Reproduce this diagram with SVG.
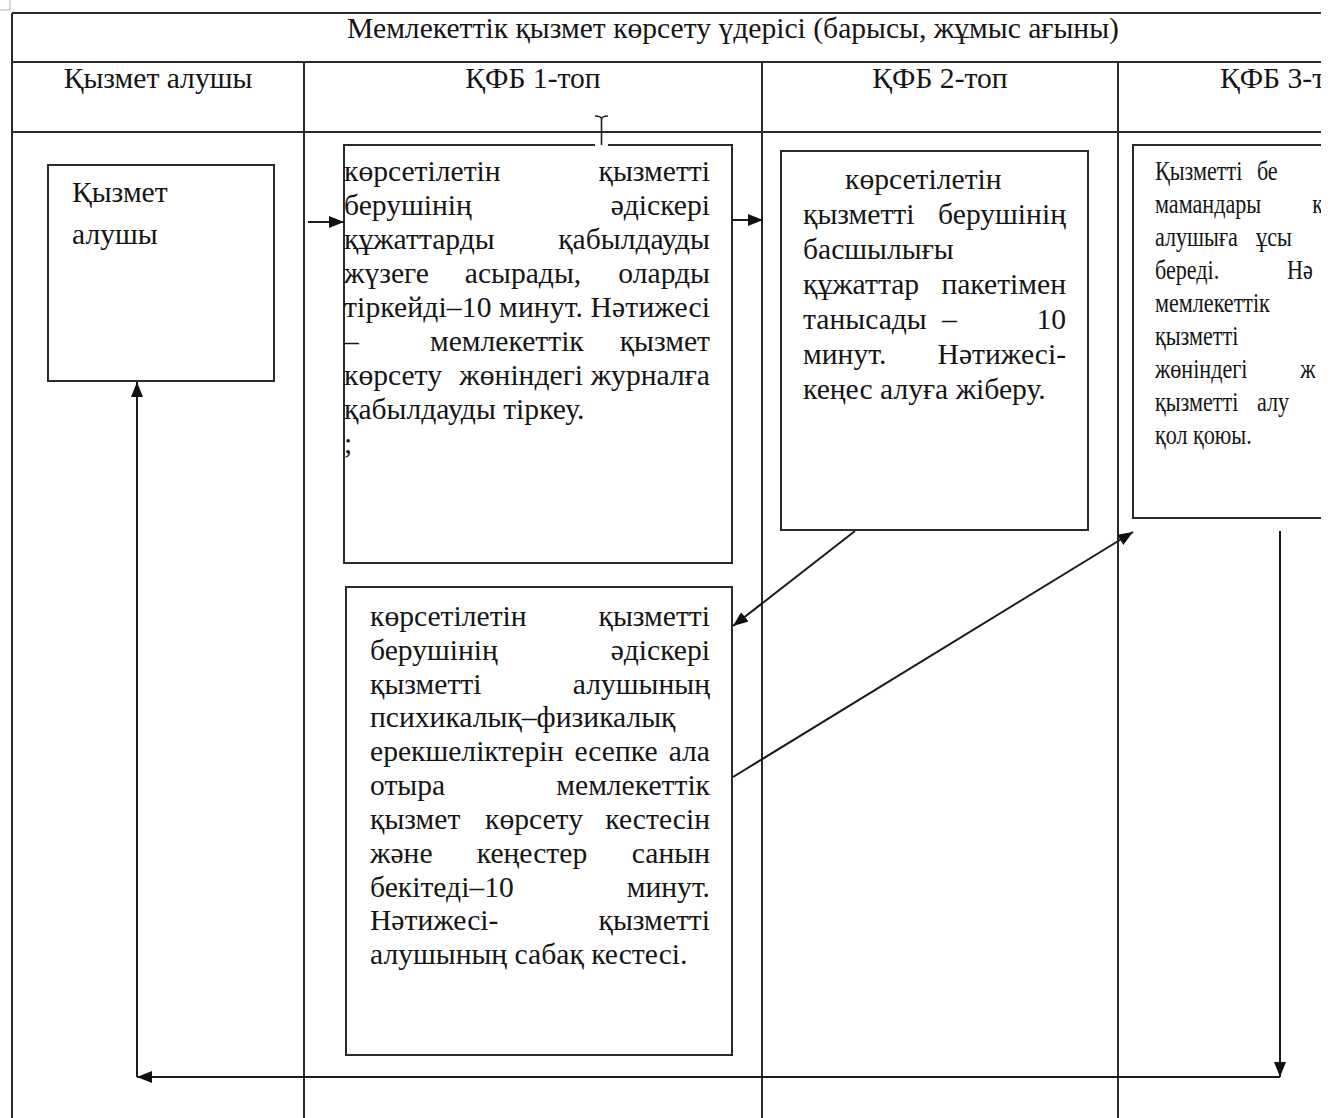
<svg xmlns="http://www.w3.org/2000/svg" width="1340" height="1118" viewBox="0 0 1340 1118">
<style>
.t{font-family:"Liberation Serif","Times New Roman",serif;font-size:29.6px;fill:#151515}
.s{font-size:28px}
.grid{stroke:#2a2a2a;stroke-width:2;fill:none}
.box{stroke:#2a2a2a;stroke-width:2;fill:#fff}
.con{stroke:#1a1a1a;stroke-width:2;fill:none}
.e{text-anchor:end}
.m{text-anchor:middle}
</style>
<defs>
<clipPath id="cl"><rect x="0" y="0" width="1321" height="1118"/></clipPath>
<marker id="ah" viewBox="0 0 15 12" refX="15" refY="6" markerWidth="15" markerHeight="12" markerUnits="userSpaceOnUse" orient="auto"><path d="M0,0 L15,6 L0,12 z" fill="#111"/></marker>
</defs>
<rect width="1340" height="1118" fill="#fff"/>
<path d="M0,10 H10 V0" stroke="#b0b0b0" stroke-width="1" fill="none"/>
<g clip-path="url(#cl)">
<g id="table">
<path class="grid" d="M12,13 H1340 M12,62 H1340 M12,132 H1340 M12,13 V1118 M304,62 V1118 M762,62 V1118 M1118,62 V1118"/>
<text class="t m" x="733" y="38">Мемлекеттік қызмет көрсету үдерісі (барысы, жұмыс ағыны)</text>
<text class="t m" x="158" y="88">Қызмет алушы</text>
<text class="t m" x="533" y="88">ҚФБ 1-топ</text>
<text class="t m" x="940" y="88">ҚФБ 2-топ</text>
<text class="t" x="1220" y="88">ҚФБ 3-т</text>
</g>
<g id="node-client">
<rect class="box" x="48" y="165" width="226" height="216"/>
<text class="t"><tspan x="72" y="202">Қызмет</tspan><tspan x="72" y="244">алушы</tspan></text>
</g>
<g id="node-kfb1-reg">
<rect class="box" x="344" y="145" width="388" height="418"/>
<text class="t"><tspan x="344" y="181">көрсетілетін</tspan><tspan class="e" x="710" y="181">қызметті</tspan><tspan x="344" y="215">берушінің</tspan><tspan class="e" x="710" y="215">әдіскері</tspan><tspan x="344" y="249">құжаттарды</tspan><tspan class="e" x="710" y="249">қабылдауды</tspan><tspan x="344" y="283">жүзеге</tspan><tspan class="m" x="523" y="283">асырады,</tspan><tspan class="e" x="710" y="283">оларды</tspan></text>
<text class="t" x="344" y="317" textLength="366" lengthAdjust="spacing">тіркейді–10 минут. Нәтижесі</text>
<text class="t"><tspan x="344" y="351">–</tspan><tspan x="430" y="351">мемлекеттік</tspan><tspan class="e" x="710" y="351">қызмет</tspan><tspan x="344" y="385">көрсету</tspan><tspan class="e" x="583" y="385">жөніндегі</tspan><tspan class="e" x="710" y="385">журналға</tspan><tspan x="344" y="419">қабылдауды тіркеу.</tspan><tspan x="344" y="453">;</tspan></text>
</g>
<g id="cursor">
<rect x="595" y="141" width="13" height="6" fill="#fff"/>
<path d="M595,116 Q601,116 601.5,119 Q602,116 608,116 M601.5,119 V145" stroke="#222" stroke-width="1.6" fill="none"/>
</g>
<g id="node-kfb2">
<rect class="box" x="781" y="151" width="307" height="379"/>
<text class="t"><tspan x="845" y="189">көрсетілетін</tspan><tspan x="803" y="224">қызметті</tspan><tspan class="e" x="1066" y="224">берушінің</tspan><tspan x="803" y="259">басшылығы</tspan><tspan x="803" y="294">құжаттар</tspan><tspan class="e" x="1066" y="294">пакетімен</tspan><tspan x="803" y="329">танысады</tspan><tspan x="942" y="329">–</tspan><tspan class="e" x="1066" y="329">10</tspan><tspan x="803" y="364">минут.</tspan><tspan class="e" x="1066" y="364">Нәтижесі-</tspan><tspan x="803" y="399">кеңес алуға жіберу.</tspan></text>
</g>
<g id="node-kfb3">
<rect class="box" x="1133" y="145" width="220" height="373"/>
<g transform="translate(1155,0) scale(0.79,1) translate(-1155,0)">
<text class="t s"><tspan x="1155" y="180">Қызметті</tspan><tspan x="1284" y="180">бе</tspan><tspan x="1155" y="213">мамандары</tspan><tspan x="1354" y="213">қ</tspan><tspan x="1155" y="246">алушыға</tspan><tspan x="1283" y="246">ұсы</tspan><tspan x="1155" y="279">береді.</tspan><tspan x="1322" y="279">Нә</tspan><tspan x="1155" y="312">мемлекеттік</tspan><tspan x="1155" y="345">қызметті</tspan><tspan x="1155" y="378">жөніндегі</tspan><tspan x="1339" y="378">ж</tspan><tspan x="1155" y="411">қызметті</tspan><tspan x="1284" y="411">алу</tspan><tspan x="1155" y="444">қол қоюы.</tspan></text>
</g>
</g>
<g id="node-kfb1-schedule">
<rect class="box" x="346" y="587" width="386" height="468"/>
<text class="t"><tspan x="370" y="626">көрсетілетін</tspan><tspan class="e" x="710" y="626">қызметті</tspan><tspan x="370" y="660">берушінің</tspan><tspan class="e" x="710" y="660">әдіскері</tspan><tspan x="370" y="694">қызметті</tspan><tspan class="e" x="710" y="694">алушының</tspan><tspan x="370" y="727">психикалық–физикалық</tspan><tspan x="370" y="761">ерекшеліктерін</tspan><tspan class="m" x="616" y="761">есепке</tspan><tspan class="e" x="710" y="761">ала</tspan><tspan x="370" y="795">отыра</tspan><tspan class="e" x="710" y="795">мемлекеттік</tspan><tspan x="370" y="829">қызмет</tspan><tspan class="m" x="534" y="829">көрсету</tspan><tspan class="e" x="710" y="829">кестесін</tspan><tspan x="370" y="863">және</tspan><tspan class="m" x="532" y="863">кеңестер</tspan><tspan class="e" x="710" y="863">санын</tspan><tspan x="370" y="897">бекітеді–10</tspan><tspan class="e" x="710" y="897">минут.</tspan><tspan x="370" y="930">Нәтижесі-</tspan><tspan class="e" x="710" y="930">қызметті</tspan><tspan x="370" y="964">алушының сабақ кестесі.</tspan></text>
</g>
<g id="connectors">
<line class="con" x1="308" y1="222" x2="344" y2="222" marker-end="url(#ah)"/>
<line class="con" x1="732" y1="220" x2="763" y2="220" marker-end="url(#ah)"/>
<line class="con" x1="855" y1="531" x2="733" y2="626" marker-end="url(#ah)"/>
<line class="con" x1="733" y1="777" x2="1133" y2="532" marker-end="url(#ah)"/>
<line class="con" x1="1280" y1="531" x2="1280" y2="1077" marker-end="url(#ah)"/>
<line class="con" x1="1280" y1="1077" x2="137" y2="1077" marker-end="url(#ah)"/>
<line class="con" x1="137" y1="1077" x2="137" y2="382" marker-end="url(#ah)"/>
</g>
</g>
</svg>
